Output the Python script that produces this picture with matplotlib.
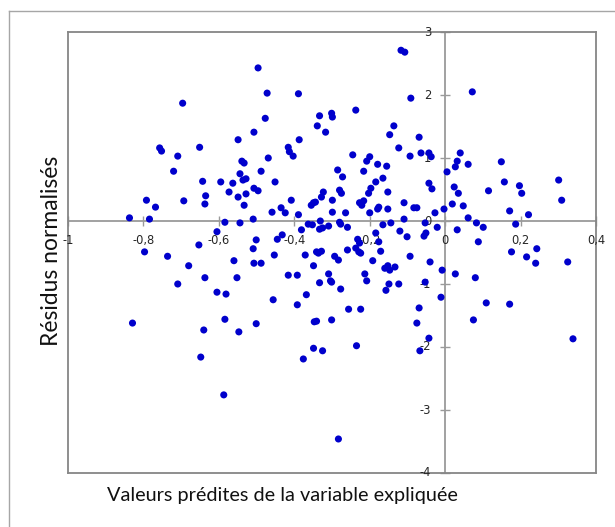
import matplotlib
matplotlib.use("Agg")
import matplotlib.pyplot as plt
from matplotlib.lines import Line2D

# Predicted values (x) and normalised residuals (y)
x_vals = [
    -0.117, -0.107, -0.091, -0.496, -0.472, -0.389, -0.477, -0.507, -0.333, -0.301,
    -0.299, -0.237, -0.339, -0.317, -0.136, -0.147, -0.069, -0.387, -0.416, -0.413,
    -0.403, -0.469, -0.488, -0.451, -0.285, -0.272, -0.245, -0.216, -0.208, -0.200,
    -0.179, -0.155, -0.165, -0.184, -0.123, -0.093, -0.064, -0.043, -0.037, 0.005,
    -0.043, -0.696, -0.549, -0.757, -0.752, -0.651, -0.709, -0.539, -0.533, -0.720,
    -0.544, -0.643, -0.595, -0.563, -0.536, -0.528, 0.072, 0.040, 0.032, 0.027,
    0.061, 0.149, 0.157, 0.301, 0.197, -0.507, -0.496, -0.573, -0.549, -0.528,
    -0.635, -0.637, -0.792, -0.768, -0.693, -0.533, -0.837, -0.784, -0.584, -0.544,
    -0.509, -0.605, -0.653, -0.501, -0.509, -0.797, -0.736, -0.560, -0.507, -0.488,
    -0.680, -0.637, -0.552, -0.709, -0.605, -0.581, -0.584, -0.501, -0.829, -0.640,
    -0.547, -0.648, -0.587, -0.408, -0.459, -0.435, -0.424, -0.389, -0.355, -0.349,
    -0.344, -0.323, -0.328, -0.299, -0.280, -0.275, -0.299, -0.264, -0.227, -0.221,
    -0.216, -0.203, -0.197, -0.152, -0.176, -0.179, -0.152, -0.200, -0.109, -0.083,
    -0.075, -0.035, -0.027, -0.003, -0.109, -0.381, -0.331, -0.352, -0.309, -0.280,
    -0.277, -0.333, -0.325, -0.259, -0.363, -0.165, -0.144, -0.184, -0.120, -0.101,
    -0.056, -0.051, -0.053, -0.021, -0.445, -0.432, -0.453, -0.341, -0.328, -0.336,
    -0.371, -0.293, -0.283, -0.259, -0.232, -0.227, -0.237, -0.229, -0.224, -0.176,
    -0.171, -0.192, -0.349, -0.416, -0.392, -0.309, -0.304, -0.213, -0.208, -0.160,
    -0.147, -0.152, -0.133, -0.093, -0.040, -0.008, -0.333, -0.277, -0.301, -0.149,
    -0.123, -0.157, -0.053, -0.368, -0.456, -0.392, -0.011, -0.069, -0.256, -0.224,
    -0.347, -0.341, -0.301, -0.075, -0.043, -0.349, -0.325, -0.376, -0.235, -0.067,
    -0.283, 0.024, 0.035, 0.203, 0.115, 0.309, 0.019, 0.048, 0.171, 0.221,
    0.061, 0.083, 0.101, 0.187, 0.032, 0.088, 0.176, 0.243, 0.216, 0.240,
    0.325, 0.027, 0.080, 0.109, 0.171, 0.075, 0.339,
]
y_vals = [
    2.71, 2.68, 1.95, 2.43, 2.03, 2.02, 1.63, 1.41, 1.67, 1.71,
    1.65, 1.76, 1.51, 1.41, 1.51, 1.37, 1.33, 1.29, 1.17, 1.10,
    1.03, 1.00, 0.79, 0.62, 0.81, 0.70, 1.05, 0.79, 0.95, 1.02,
    0.90, 0.87, 0.68, 0.62, 1.16, 1.03, 1.08, 1.08, 1.02, 0.78,
    0.60, 1.87, 1.29, 1.16, 1.11, 1.17, 1.03, 0.95, 0.92, 0.79,
    0.75, 0.63, 0.62, 0.60, 0.65, 0.67, 2.05, 1.08, 0.95, 0.86,
    0.90, 0.94, 0.62, 0.65, 0.56, 0.52, 0.48, 0.46, 0.38, 0.43,
    0.40, 0.27, 0.33, 0.22, 0.32, 0.25, 0.05, 0.03, -0.02, -0.03,
    0.03, -0.17, -0.38, -0.30, -0.44, -0.49, -0.56, -0.63, -0.67, -0.67,
    -0.71, -0.90, -0.90, -1.00, -1.13, -1.16, -1.56, -1.63, -1.62, -1.73,
    -1.76, -2.16, -2.76, 0.33, 0.14, 0.21, 0.13, 0.10, 0.25, 0.29,
    0.30, 0.46, 0.38, 0.33, 0.49, 0.44, 0.14, 0.13, 0.29, 0.25,
    0.32, 0.44, 0.52, 0.46, 0.22, 0.19, 0.19, 0.13, 0.29, 0.21,
    0.21, 0.51, 0.13, 0.19, 0.03, -0.14, 0.00, -0.06, -0.08, -0.02,
    -0.05, -0.13, -0.11, -0.10, -0.05, -0.06, -0.03, -0.19, -0.16, -0.25,
    -0.24, -0.19, -0.03, -0.10, -0.29, -0.22, -0.54, -0.49, -0.48, -0.51,
    -0.54, -0.56, -0.62, -0.46, -0.29, -0.35, -0.43, -0.49, -0.51, -0.33,
    -0.48, -0.63, -0.71, -0.86, -0.86, -0.84, -0.95, -0.84, -0.95, -0.75,
    -0.78, -0.71, -0.73, -0.56, -0.65, -0.78, -0.98, -1.08, -0.97, -1.00,
    -1.00, -1.10, -0.97, -1.17, -1.25, -1.33, -1.21, -1.38, -1.40, -1.40,
    -1.60, -1.59, -1.57, -1.62, -1.86, -2.02, -2.06, -2.19, -1.98, -2.06,
    -3.46, 0.54, 0.44, 0.44, 0.48, 0.33, 0.27, 0.24, 0.16, 0.10,
    0.05, -0.03, -0.10, -0.05, -0.14, -0.33, -0.49, -0.44, -0.57, -0.67,
    -0.65, -0.84, -0.90, -1.30, -1.32, -1.57, -1.87,
]

x_ticks = [-1, -0.8, -0.6, -0.4, -0.2, 0, 0.2, 0.4]
x_tick_labels = ["-1", "-0,8", "-0,6", "-0,4", "-0,2", "0", "0,2", "0,4"]
y_ticks = [-4, -3, -2, -1, 0, 1, 2, 3]
y_tick_labels = ["-4", "-3", "-2", "-1", "0", "1", "2", "3"]

x_title = "Valeurs prédites de la variable expliquée"
y_title = "Résidus normalisés"

W, H = 615, 527
fig = plt.figure(figsize=(W / 100, H / 100), dpi=100)
fig.patch.set_facecolor("white")

# outer chart-area border (left and top visible)
border_col = "#a6a6a6"
fig.add_artist(Line2D([9 / W, 9 / W], [0, 1 - 11 / H], transform=fig.transFigure,
                      color=border_col, lw=1.0))
fig.add_artist(Line2D([9 / W, 1], [1 - 11 / H, 1 - 11 / H], transform=fig.transFigure,
                      color=border_col, lw=1.0))

ax = fig.add_axes([68 / W, (H - 473) / H, (596 - 68) / W, (473 - 32) / H])
ax.set_xlim(-1, 0.4)
ax.set_ylim(-4, 3)
frame_col = "#868686"
for s in ax.spines.values():
    s.set_color(frame_col)
    s.set_linewidth(1.3)
ax.set_xticks([])
ax.set_yticks([])

axis_col = "#9a9a9a"
ax.axhline(0, color=axis_col, lw=1.3, zorder=1)
ax.axvline(0, color=axis_col, lw=1.3, zorder=1)

# cross tick marks on the zero axes
ax.plot(x_ticks, [0] * len(x_ticks), linestyle="none", marker="|", ms=7,
        mew=1.0, color=axis_col, zorder=1, clip_on=False)
ax.plot([0] * len(y_ticks), y_ticks, linestyle="none", marker="_", ms=7,
        mew=1.0, color=axis_col, zorder=1, clip_on=False)

tick_font = dict(family="DejaVu Sans", size=8.3, color="#262626")
for xv, lab in zip(x_ticks, x_tick_labels):
    ax.annotate(lab, (xv, 0), xytext=(0, -14), textcoords="offset points",
                ha="center", va="center", annotation_clip=False, **tick_font)
for yv, lab in zip(y_ticks, y_tick_labels):
    ax.annotate(lab, (0, yv), xytext=(-10, 0), textcoords="offset points",
                ha="right", va="center", annotation_clip=False, **tick_font)

ax.scatter(x_vals, y_vals, s=26, color="#0000cc", edgecolors="none", zorder=3)

fig.text(282 / W, 1 - 495 / H, x_title, ha="center", va="center",
         family="Lato", size=14.3, color="#111111")
fig.text(52 / W, 1 - 251 / H, y_title, ha="center", va="center", rotation=90,
         family="Lato", size=16.5, color="#111111")

fig.savefig("out.png", dpi=100)
